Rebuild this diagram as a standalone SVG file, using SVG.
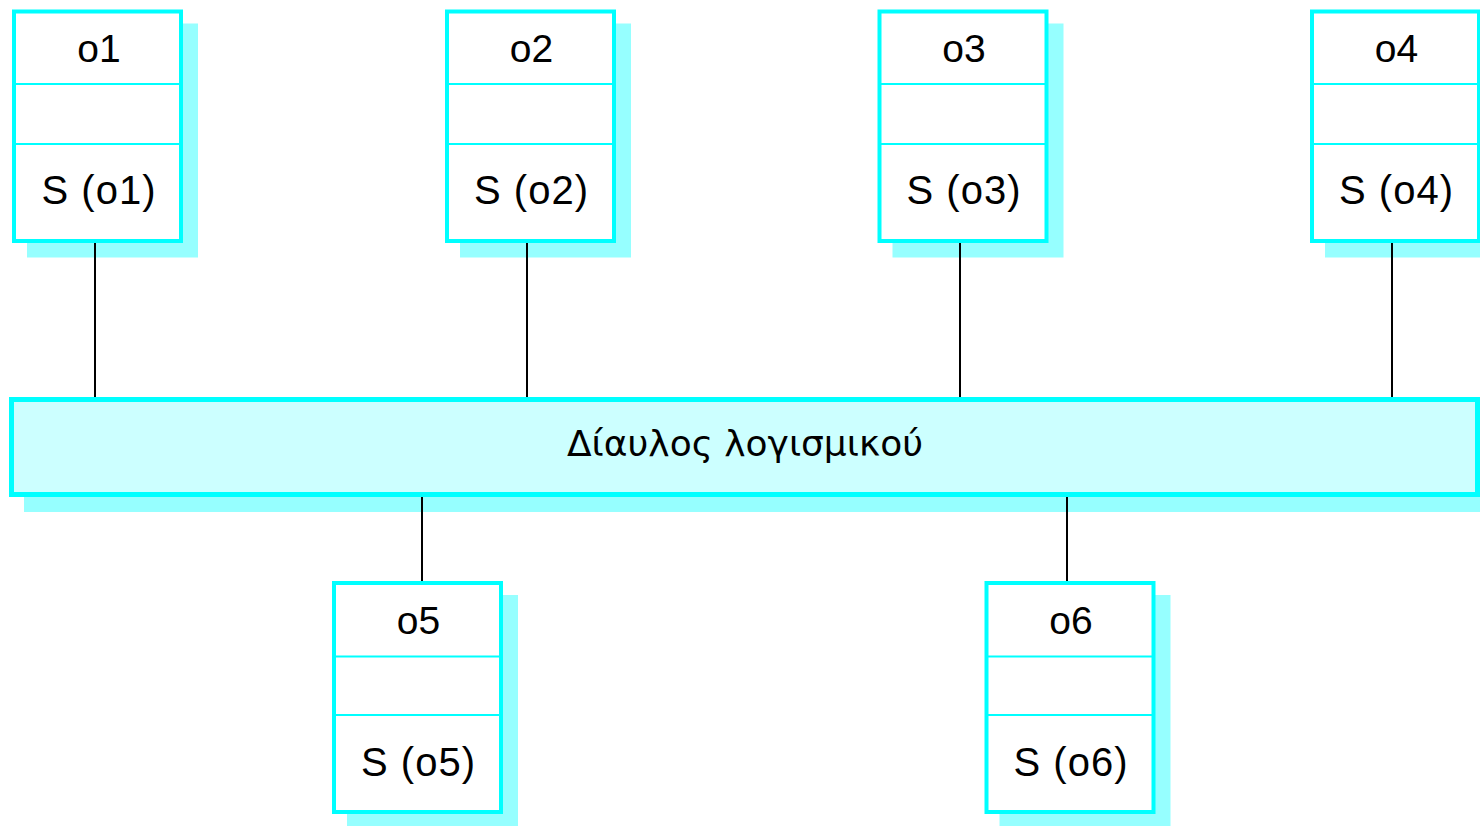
<svg xmlns="http://www.w3.org/2000/svg" width="1480" height="826" viewBox="0 0 1480 826">
<style>
.shadow{fill:#96FFFF;stroke:none}
.box{fill:#FFFFFF;stroke:#00FFFF;stroke-width:4}
.div{stroke:#00FFFF;stroke-width:2}
.lbl{font-family:"Liberation Sans",Arial,sans-serif;font-size:39px;fill:#000;text-anchor:middle}
.slbl{font-family:"Liberation Sans",Arial,sans-serif;font-size:40px;letter-spacing:1px;fill:#000;text-anchor:middle}
.conn{stroke:#000;stroke-width:2}
.bus{fill:#CCFFFF;stroke:#00FFFF;stroke-width:5}
.bustxt{font-family:"DejaVu Sans","Liberation Sans",sans-serif;font-size:36px;fill:#000;text-anchor:middle}
</style>
<rect width="1480" height="826" fill="#FFFFFF"/>
<g id="bus">
<rect class="shadow" x="24" y="412" width="1470" height="100"/>
<rect class="bus" x="11.5" y="399.5" width="1466" height="95"/>
<text class="bustxt" x="745" y="456">Δίαυλος λογισμικού</text>
</g>
<g id="o1">
<rect class="shadow" x="27" y="23.5" width="171" height="234"/>
<rect class="box" x="14" y="11.5" width="167" height="229.5"/>
<line class="div" x1="14" y1="84" x2="181" y2="84"/>
<line class="div" x1="14" y1="144" x2="181" y2="144"/>
<text class="lbl" x="99" y="62">o1</text>
<text class="slbl" x="99" y="204">S (o1)</text>
</g>
<g id="o2">
<rect class="shadow" x="460" y="23.5" width="171" height="234"/>
<rect class="box" x="447" y="11.5" width="167" height="229.5"/>
<line class="div" x1="447" y1="84" x2="614" y2="84"/>
<line class="div" x1="447" y1="144" x2="614" y2="144"/>
<text class="lbl" x="531.5" y="62">o2</text>
<text class="slbl" x="531.5" y="204">S (o2)</text>
</g>
<g id="o3">
<rect class="shadow" x="892.5" y="23.5" width="171" height="234"/>
<rect class="box" x="879.5" y="11.5" width="167" height="229.5"/>
<line class="div" x1="879.5" y1="84" x2="1046.5" y2="84"/>
<line class="div" x1="879.5" y1="144" x2="1046.5" y2="144"/>
<text class="lbl" x="964" y="62">o3</text>
<text class="slbl" x="964" y="204">S (o3)</text>
</g>
<g id="o4">
<rect class="shadow" x="1325" y="23.5" width="171" height="234"/>
<rect class="box" x="1312" y="11.5" width="167" height="229.5"/>
<line class="div" x1="1312" y1="84" x2="1479" y2="84"/>
<line class="div" x1="1312" y1="144" x2="1479" y2="144"/>
<text class="lbl" x="1396.5" y="62">o4</text>
<text class="slbl" x="1396.5" y="204">S (o4)</text>
</g>
<g id="o5">
<rect class="shadow" x="347" y="595" width="171" height="234"/>
<rect class="box" x="334" y="583" width="167" height="229"/>
<line class="div" x1="334" y1="656.5" x2="501" y2="656.5"/>
<line class="div" x1="334" y1="715" x2="501" y2="715"/>
<text class="lbl" x="418.5" y="634">o5</text>
<text class="slbl" x="418.5" y="776">S (o5)</text>
</g>
<g id="o6">
<rect class="shadow" x="999.5" y="595" width="171" height="234"/>
<rect class="box" x="986.5" y="583" width="167" height="229"/>
<line class="div" x1="986.5" y1="656.5" x2="1153.5" y2="656.5"/>
<line class="div" x1="986.5" y1="715" x2="1153.5" y2="715"/>
<text class="lbl" x="1071" y="634">o6</text>
<text class="slbl" x="1071" y="776">S (o6)</text>
</g>
<g id="connectors">
<line class="conn" x1="95" y1="243" x2="95" y2="397"/>
<line class="conn" x1="527" y1="243" x2="527" y2="397"/>
<line class="conn" x1="960" y1="243" x2="960" y2="397"/>
<line class="conn" x1="1392" y1="243" x2="1392" y2="397"/>
<line class="conn" x1="422" y1="497" x2="422" y2="581"/>
<line class="conn" x1="1067" y1="497" x2="1067" y2="581"/>
</g>
</svg>
